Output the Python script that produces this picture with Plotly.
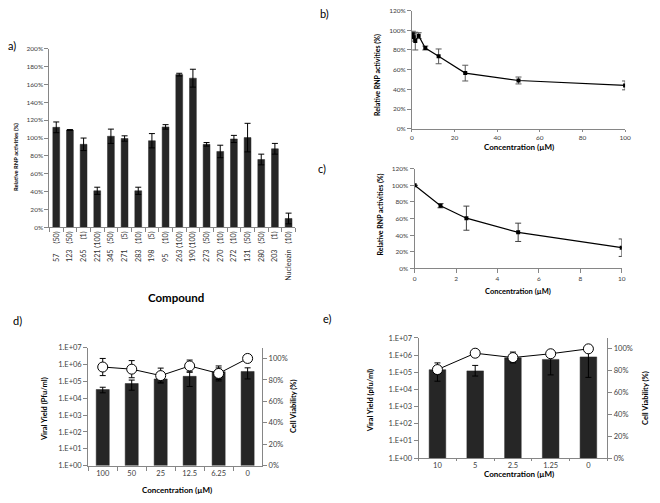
import plotly.graph_objects as go

W, H = 660, 503
FONT = "Lato"
TICKC = "#404040"
AXC = "#868686"

# ---------------- data ----------------
# panel a
a_compounds = ["57", "123", "265", "221", "345", "271", "283", "198", "95", "263",
               "190", "273", "270", "272", "131", "280", "203", "Nucleozin"]
a_conc = ["50", "50", "1", "100", "50", "5", "10", "5", "10", "100",
          "100", "50", "10", "10", "50", "50", "1", "10"]
a_values = [1.12, 1.09, 0.93, 0.41, 1.02, 0.995, 0.41, 0.97, 1.125, 1.71,
            1.67, 0.93, 0.85, 0.99, 1.005, 0.76, 0.88, 0.10]
a_err = [0.06, 0.005, 0.07, 0.04, 0.08, 0.03, 0.04, 0.08, 0.025, 0.015,
         0.10, 0.02, 0.07, 0.04, 0.16, 0.06, 0.06, 0.06]

# panel b
b_conc = [0.39, 0.78, 1.56, 3.125, 6.25, 12.5, 25, 50, 100]
b_values = [0.96, 0.93, 0.89, 0.945, 0.82, 0.735, 0.565, 0.49, 0.44]
b_err = [0.03, 0.04, 0.09, 0.03, 0.02, 0.075, 0.08, 0.035, 0.045]

# panel c
c_conc = [0, 1.25, 2.5, 5, 10]
c_values = [1.00, 0.755, 0.605, 0.435, 0.25]
c_err = [0.0, 0.025, 0.145, 0.11, 0.105]

# panel d
d_conc = ["100", "50", "25", "12.5", "6.25", "0"]
d_yield = [3.3e4, 7.5e4, 1.4e5, 2.0e5, 3.8e5, 3.9e5]
d_yield_err = [1.2e4, 4.5e4, 5.0e4, 1.5e5, 2.5e5, 2.5e5]
d_viab = [0.92, 0.90, 0.84, 0.93, 0.86, 1.00]
d_viab_err = [0.08, 0.08, 0.07, 0.055, 0.07, 0.0]

# panel e
e_conc = ["10", "5", "2.5", "1.25", "0"]
e_yield = [1.4e5, 1.2e5, 7.0e5, 5.6e5, 7.8e5]
e_yield_err_plus = [2.1e5, 1.3e5, 8.0e5, 4.9e5, 7.3e5]
e_yield_err_minus = [1.1e5, 0.6e5, 3.5e5, 4.9e5, 7.3e5]
e_viab = [0.81, 0.96, 0.92, 0.955, 1.00]
e_viab_err = [0.03, 0.0, 0.02, 0.0, 0.0]

log_ticks = [1, 10, 100, 1e3, 1e4, 1e5, 1e6, 1e7]
log_ticktext = ["1.E+00", "1.E+01", "1.E+02", "1.E+03", "1.E+04", "1.E+05", "1.E+06", "1.E+07"]


def lab(num, conc):
    fs = "\u2007"
    left = num + fs * max(0, 3 - len(num))
    right = fs * max(0, 3 - len(conc)) + "(" + conc + ")"
    return left + " " + right


a_labels = [lab(n, c) for n, c in zip(a_compounds, a_conc)]


def px_x(p):
    return p / W


def px_y(p):
    return 1 - p / H


fig = go.Figure()

# a
fig.add_trace(go.Bar(x=a_labels, y=a_values, xaxis="x", yaxis="y", width=0.5,
                     marker=dict(color="#262626", line=dict(color="#262626", width=0.5)),
                     error_y=dict(type="data", array=a_err, color="black", thickness=1, width=3)))
# b
fig.add_trace(go.Scatter(x=b_conc, y=b_values, xaxis="x2", yaxis="y2", mode="lines+markers",
                         line=dict(color="black", width=1.2),
                         marker=dict(symbol="square", size=4, color="black"),
                         error_y=dict(type="data", array=b_err, color="#595959", thickness=1, width=3)))
# c
fig.add_trace(go.Scatter(x=c_conc, y=c_values, xaxis="x3", yaxis="y3", mode="lines+markers",
                         line=dict(color="black", width=1.2),
                         marker=dict(symbol="square", size=4, color="black"),
                         error_y=dict(type="data", array=c_err, color="#404040", thickness=1, width=3)))
# d
fig.add_trace(go.Bar(x=d_conc, y=d_yield, xaxis="x4", yaxis="y4", width=0.45,
                     marker=dict(color="#262626", line=dict(color="#262626", width=0.5)),
                     error_y=dict(type="data", array=d_yield_err, color="black", thickness=1, width=3)))
fig.add_trace(go.Scatter(x=d_conc, y=d_viab, xaxis="x4", yaxis="y5", mode="lines+markers",
                         line=dict(color="black", width=1),
                         marker=dict(symbol="circle", size=10, color="white",
                                     line=dict(color="black", width=1)),
                         error_y=dict(type="data", array=d_viab_err, color="black", thickness=1, width=3)))
# e
fig.add_trace(go.Bar(x=e_conc, y=e_yield, xaxis="x5", yaxis="y6", width=0.44,
                     marker=dict(color="#262626", line=dict(color="#262626", width=0.5)),
                     error_y=dict(type="data", array=e_yield_err_plus, arrayminus=e_yield_err_minus,
                                  color="black", thickness=1, width=3)))
fig.add_trace(go.Scatter(x=e_conc, y=e_viab, xaxis="x5", yaxis="y7", mode="lines+markers",
                         line=dict(color="black", width=1),
                         marker=dict(symbol="circle", size=10, color="white",
                                     line=dict(color="black", width=1)),
                         error_y=dict(type="data", array=e_viab_err, color="black", thickness=1, width=3)))

axbase = dict(showline=True, linecolor=AXC, linewidth=1, showgrid=False, zeroline=False,
              ticks="outside", tickcolor=AXC, ticklen=4, tickwidth=1)

layout = dict(
    width=W, height=H, margin=dict(l=0, r=0, t=0, b=0), autosize=False,
    paper_bgcolor="white", plot_bgcolor="white", showlegend=False,
    font=dict(family=FONT, color=TICKC, size=7),
    xaxis=dict(axbase, domain=[px_x(48), px_x(297)], anchor="y", type="category",
               tickson="boundaries", tickangle=-90, tickfont=dict(size=7.2, color="#303030"),
               range=[-0.5, 17.5]),
    yaxis=dict(axbase, domain=[px_y(227.5), px_y(45.5)], anchor="x", range=[0, 2.0],
               dtick=0.2, tickformat=".0%", tickfont=dict(size=6.5)),
    xaxis2=dict(axbase, domain=[px_x(415), px_x(630.7)], anchor="y2", range=[0, 100], dtick=20,
                ticklen=2, tickfont=dict(size=6.5)),
    yaxis2=dict(axbase, domain=[px_y(127), px_y(6.7)], anchor="x2", range=[0, 1.2], dtick=0.2,
                tickformat=".0%", tickfont=dict(size=6.5)),
    xaxis3=dict(axbase, domain=[px_x(417.7), px_x(627.3)], anchor="y3", range=[0, 10], dtick=2,
                tickfont=dict(size=6.5)),
    yaxis3=dict(axbase, domain=[px_y(269.3), px_y(167.7)], anchor="x3", range=[0, 1.2], dtick=0.2,
                tickformat=".0%", tickfont=dict(size=6.5)),
    xaxis4=dict(axbase, domain=[px_x(87.3), px_x(263.3)], anchor="y4", type="category",
                tickson="boundaries", range=[-0.5, 5.5], tickfont=dict(size=7.5)),
    yaxis4=dict(axbase, domain=[px_y(470), px_y(350)], anchor="x4", type="log", range=[0, 7],
                tickvals=log_ticks, ticktext=log_ticktext, tickfont=dict(size=7.5)),
    yaxis5=dict(axbase, overlaying="y4", anchor="x4", side="right", range=[0, 1.1],
                tickvals=[0, 0.2, 0.4, 0.6, 0.8, 1.0], tickformat=".0%", tickfont=dict(size=7.5)),
    xaxis5=dict(axbase, domain=[px_x(421.7), px_x(612.7)], anchor="y6", type="category",
                tickson="boundaries", range=[-0.5, 4.5], ticklen=2, tickfont=dict(size=7.5)),
    yaxis6=dict(axbase, domain=[px_y(462.3), px_y(340)], anchor="x5", type="log", range=[0, 7],
                tickvals=log_ticks, ticktext=log_ticktext, tickfont=dict(size=7.5)),
    yaxis7=dict(axbase, overlaying="y6", anchor="x5", side="right", range=[0, 1.1],
                tickvals=[0, 0.2, 0.4, 0.6, 0.8, 1.0], tickformat=".0%", tickfont=dict(size=7.5)),
)
fig.update_layout(**layout)


def ann(text, x, y, size, bold=True, angle=0, color="black"):
    t = "<b>" + text + "</b>" if bold else text
    fig.add_annotation(text=t, x=px_x(x), y=px_y(y), xref="paper", yref="paper",
                       showarrow=False, textangle=angle, xanchor="center", yanchor="middle",
                       font=dict(family=FONT, size=size, color=color))


# axis titles
ann("Relative RNP activities (%)", 13, 156, 5.8, angle=-90)
ann("Compound", 176, 299, 11.5)
ann("Relative RNP activities (%)", 380, 72, 7, angle=-90)
ann("Concentration (µM)", 523, 146, 8)
ann("Relative RNP activities (%)", 383, 214, 7, angle=-90)
ann("Concentration (µM)", 522, 292.5, 7.5)
ann("Viral Yield (Pfu/ml)", 43, 412, 7.5, angle=-90)
ann("Cell Viability (%)", 295, 409, 7.5, angle=-90)
ann("Concentration (µM)", 177, 495, 8)
ann("Viral Yield (pfu/ml)", 373, 404, 7.5, angle=-90)
ann("Cell Viability (%)", 652, 401, 7.5, angle=-90)
ann("Concentration (µM)", 523, 479, 8)

# panel letters
ann("a)", 10, 42, 11, bold=False)
ann("b)", 326, 10, 11, bold=False)
ann("c)", 324, 168, 11, bold=False)
ann("d)", 16, 322, 11, bold=False)
ann("e)", 329, 320, 11, bold=False)

fig.write_html("out.html", config={"displayModeBar": False},
               post_script="document.body.style.margin='0px';document.body.style.overflow='hidden';")
